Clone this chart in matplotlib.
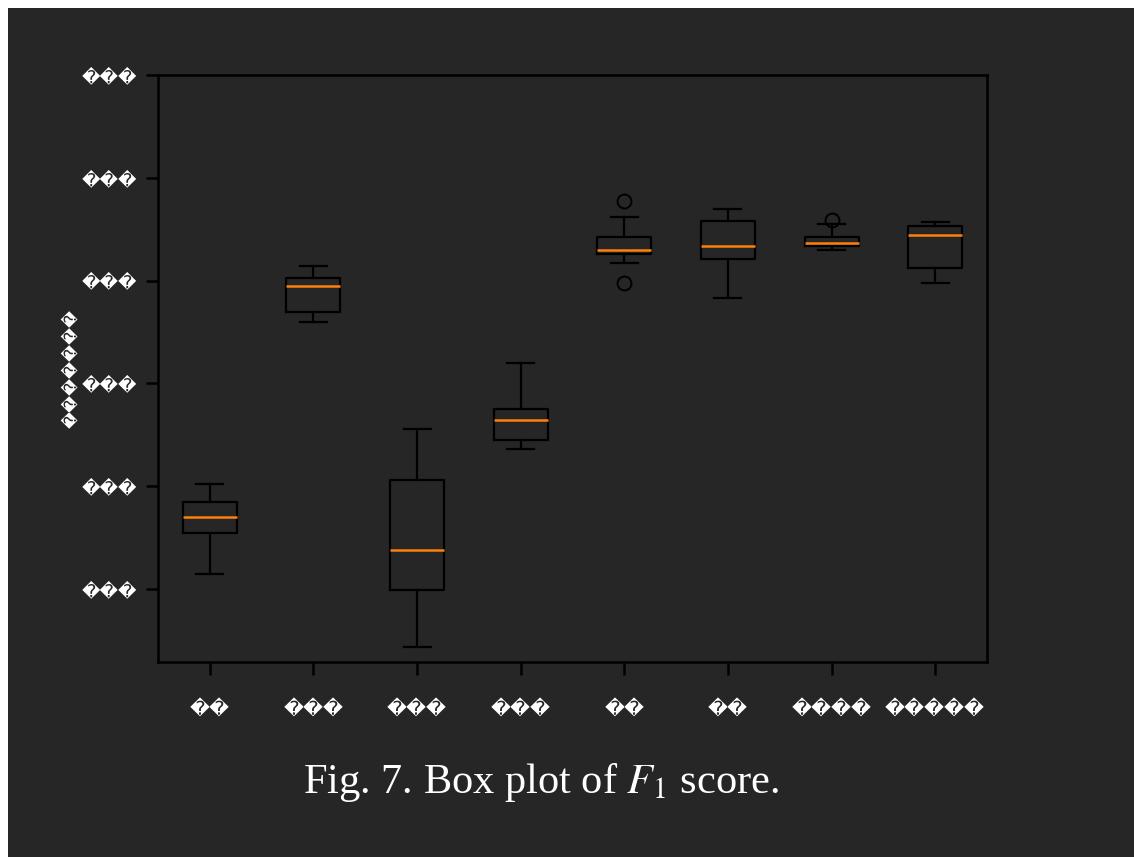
import matplotlib
matplotlib.use("Agg")
import matplotlib.pyplot as plt
from matplotlib.patches import Rectangle

plt.rcParams["mathtext.fontset"] = "stix"

R = "\ufffd"
x_labels = [R*2, R*3, R*3, R*3, R*2, R*2, R*4, R*5]
y_tick_values = [0.5, 0.6, 0.7, 0.8, 0.9, 1.0]
y_tick_labels = [R*3] * 6
y_label = R*7

whislo = [0.515, 0.760, 0.444, 0.636, 0.817, 0.783, 0.830, 0.798]
q1     = [0.554, 0.769, 0.499, 0.645, 0.826, 0.821, 0.834, 0.812]
med    = [0.570, 0.795, 0.538, 0.664, 0.830, 0.834, 0.837, 0.844]
q3     = [0.585, 0.803, 0.606, 0.675, 0.842, 0.858, 0.842, 0.853]
whishi = [0.602, 0.814, 0.656, 0.720, 0.862, 0.870, 0.855, 0.857]
fliers = [[], [], [], [], [0.877, 0.798], [], [0.859], []]

BG = "#262626"
fig = plt.figure(figsize=(11.34, 8.57), dpi=100, facecolor=BG)
fig.patches.append(Rectangle((0, 1 - 8/857), 1, 8/857, transform=fig.transFigure,
                             facecolor="white", edgecolor="none", zorder=10))
fig.patches.append(Rectangle((0, 0), 8/1134, 1, transform=fig.transFigure,
                             facecolor="white", edgecolor="none", zorder=10))

ax = fig.add_axes([158/1134, 1 - 662/857, (987-158)/1134, (662-75)/857])
ax.set_facecolor(BG)

stats = []
for i in range(len(med)):
    stats.append(dict(whislo=whislo[i], q1=q1[i], med=med[i], q3=q3[i],
                      whishi=whishi[i], fliers=fliers[i], label=x_labels[i]))

ax.bxp(stats, widths=0.52,
       boxprops=dict(color="black", linewidth=1.6),
       whiskerprops=dict(color="black", linewidth=1.6),
       capprops=dict(color="black", linewidth=1.6),
       medianprops=dict(color="#ff7f0e", linewidth=1.8),
       flierprops=dict(marker="o", markerfacecolor="none", markeredgecolor="black",
                       markersize=10, markeredgewidth=1.4))

ax.set_ylim(0.429, 1.0)
ax.set_xlim(0.5, 8.5)
ax.set_yticks(y_tick_values)
ax.set_yticklabels(y_tick_labels, color="white", fontsize=13, family="DejaVu Sans")
ax.set_xticklabels(x_labels, color="white", fontsize=14, family="DejaVu Sans")
for sp in ax.spines.values():
    sp.set_color("black")
    sp.set_linewidth(1.8)
ax.tick_params(axis="both", colors="black", length=9, width=1.8, labelcolor="white")
ax.tick_params(axis="x", pad=18)
ax.tick_params(axis="y", pad=6)
ax.set_ylabel(y_label, color="white", fontsize=12)
ax.yaxis.set_label_coords(-0.094, 0.5)

fig.text(541/1134, 1 - 782/857, r"Fig. 7. Box plot of $F_1$ score.", color="white",
         fontsize=30.5, family="Liberation Serif", ha="center", va="center")

fig.savefig("out.png", dpi=100, facecolor=BG)
